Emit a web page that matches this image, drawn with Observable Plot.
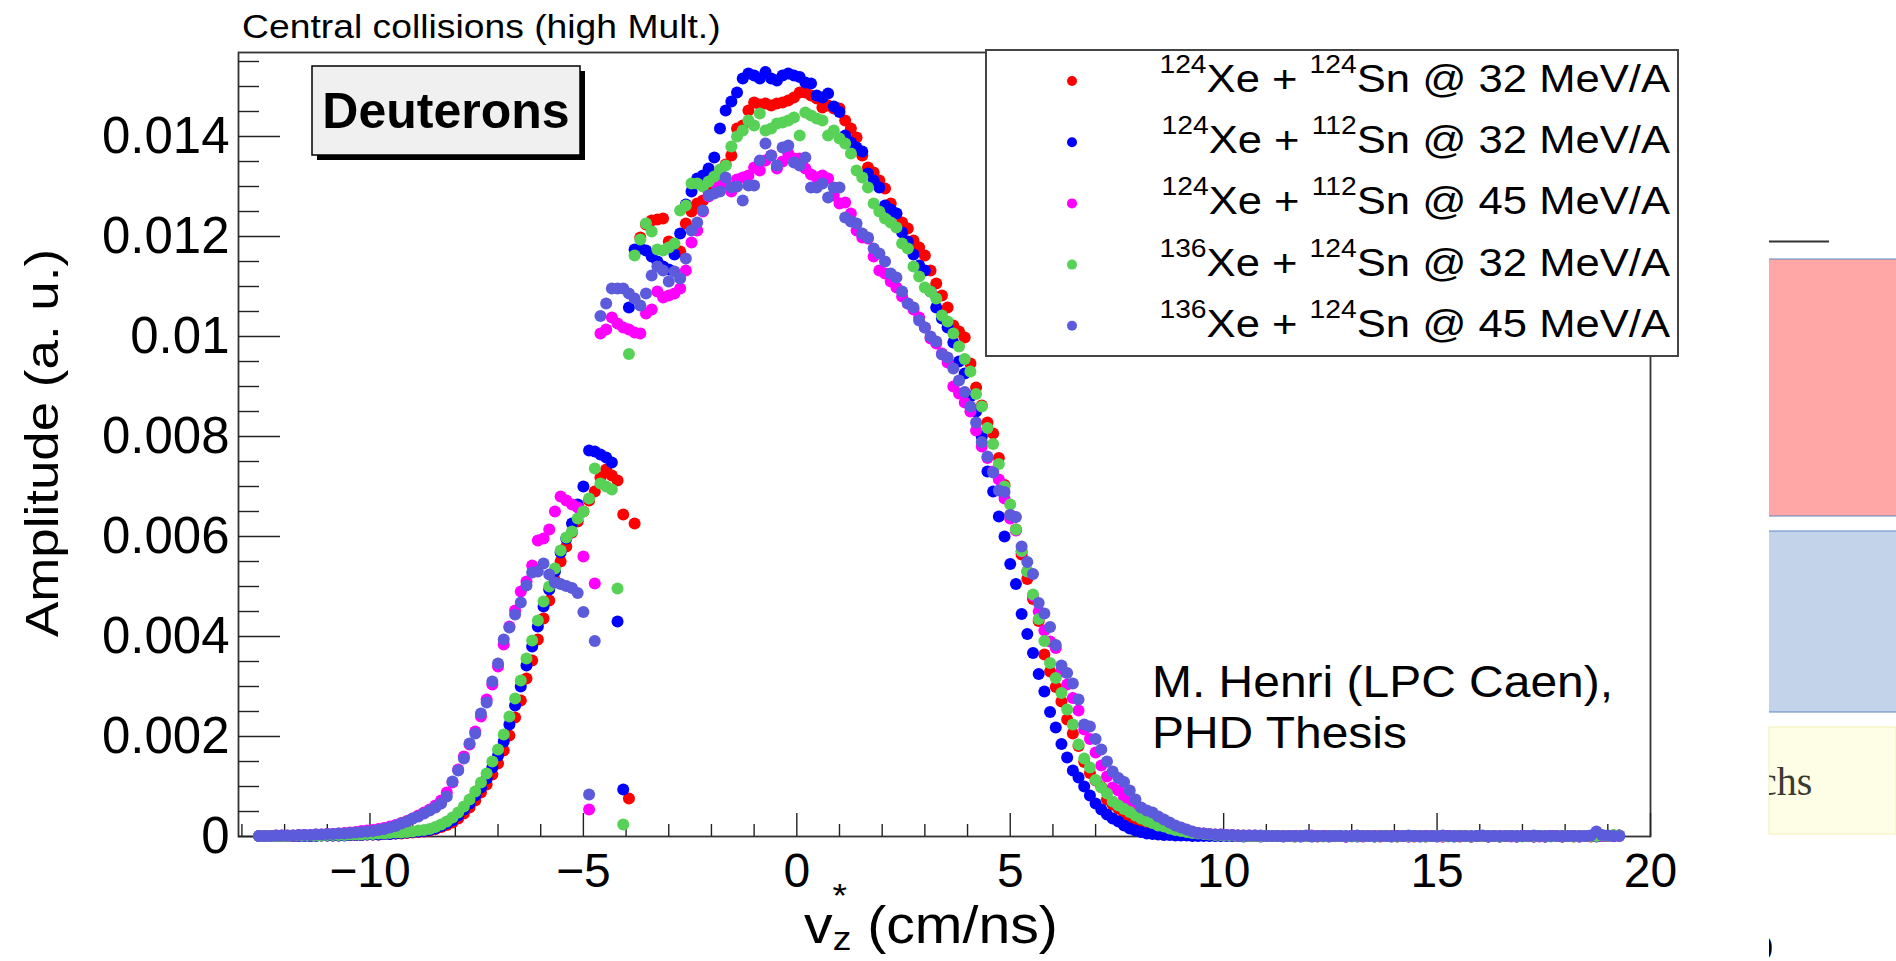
<!DOCTYPE html>
<html>
<head>
<meta charset="utf-8">
<script src="https://cdn.jsdelivr.net/npm/d3@7"></script>
<script src="https://cdn.jsdelivr.net/npm/@observablehq/plot@0.6"></script>
<style>
html, body { margin: 0; padding: 0; background: #fff; overflow: hidden; }
#wrap { position: relative; width: 1896px; height: 961px; overflow: hidden; background: #fff; }
#chart { position: absolute; left: 0; top: 0; }
</style>
</head>
<body>
<div id="wrap"><div id="chart"></div></div>
<script>
// ---- histogram binning (bin centres) ----
const binLo = -12.6;
const binStep = 2 / 15;

// ---- series descriptors ----
const projMass = ["124", "124", "124", "136", "136"];
const targMass = ["124", "112", "112", "124", "124"];
const beamEnergy = ["32", "32", "45", "32", "45"];
const colors = ["#ff0000", "#0000ff", "#ff00ff", "#57d257", "#5b5bdb"];

// ---- amplitudes per bin, in units of 1e-5 ----
const red = [
1,1,1,1,1,1,1,1,2,1, 2,2,2,2,2,3,3,3,3,4, 4,4,5,5,6,6,7,8,9,10,
12,15,19,23,28,36,46,58,72,88, 104,124,146,172,202,238,272,316,352,394,
436,472,512,550,580,608,630,650,672,690, 718,734,722,712,644,76,626,1198,1224,1232,
1234,1236,1190,1172,1170,1226,1250,1266,1272,1290, 1306,1326,1344,1362,1416,1422,1452,1468,1464,1466,
1462,1466,1468,1472,1478,1488,1488,1482,1476,1458, 1462,1456,1456,1432,1416,1398,1362,1338,1328,1312,
1296,1266,1246,1228,1216,1192,1178,1162,1132,1106, 1082,1058,1022,1010,998,946,898,862,828,806,
757,703,643,614,564,515,475,431,364,330, 299,270,234,206,181,149,127,112,99,74,
64,56,46,38,32,26,20,16,13,10, 8,7,6,5,4,4,3,3,2,2,
2,1,2,1,1,1,1,1,1,1, 1,1,0,1,1,1,0,1,1,1, 1,0,1,1,0,1,1,0,1,1,
0,1,1,0,1,0,1,1,0,1, 1,0,1,0,1,1,0,1,0,1, 1,0,1,1,0,1,0,1,1,0,
1,0,1,1,0,1,1,1,2,2
];
const blue = [
1,1,1,1,1,1,1,1,1,1, 1,2,2,2,2,2,3,3,3,4, 4,4,5,5,6,7,8,9,10,11,
13,16,21,26,32,42,54,66,82,98, 116,138,162,190,224,262,300,342,380,420,
460,494,530,568,596,626,664,700,772,770, 764,758,748,430,94,1058,1174,1176,1172,1160,
1150,1140,1134,1164,1206,1264,1290,1316,1322,1336, 1358,1416,1452,1470,1488,1516,1526,1522,1516,1529,
1516,1512,1522,1526,1522,1519,1508,1506,1482,1478, 1486,1460,1449,1402,1388,1378,1370,1326,1312,1298,
1262,1254,1246,1208,1190,1164,1142,1132,1090,1058, 1036,1018,988,950,926,880,850,800,730,690,
640,600,545,505,445,405,367,325,290,249, 218,185,158,132,118,100,82,66,54,44,
36,30,22,16,12,9,6,5,4,3, 3,2,2,2,1,1,1,1,1,1,
1,1,1,0,1,1,0,1,1,1, 0,1,1,0,1,0,1,1,0,1, 1,0,1,0,1,1,0,1,1,0,
1,1,0,1,0,1,1,0,1,1, 0,1,1,0,1,1,0,1,0,1, 1,0,1,1,0,1,0,1,1,0,
1,1,0,1,1,0,1,1,1,2
];
const magenta = [
1,1,1,2,2,2,2,3,3,3, 4,4,5,5,6,7,8,9,11,12, 13,15,17,20,23,27,31,36,42,48,
54,62,72,88,108,134,160,184,210,240, 274,304,340,384,420,452,490,510,542,592,
596,614,650,680,672,664,658,560,54,506, 1006,1014,1038,1026,1018,1014,1008,1006,1046,1054,
1090,1078,1082,1086,1096,1132,1188,1212,1250,1280, 1308,1304,1306,1290,1314,1318,1322,1338,1332,1352,
1362,1336,1350,1366,1356,1356,1336,1324,1318,1322, 1316,1282,1266,1268,1246,1212,1198,1196,1160,1132,
1126,1110,1098,1080,1066,1054,1038,1018,996,986, 966,948,900,886,868,850,812,780,757,730,
714,676,636,612,570,530,481,450,412,390, 377,330,304,277,252,214,195,168,142,120,
98,92,78,68,60,50,42,36,30,26, 22,18,14,11,9,7,6,5,4,4,
3,3,2,2,2,2,1,1,1,1, 1,1,1,1,1,2,1,1,1,1, 1,0,1,1,1,1,0,1,1,1,
1,1,0,1,1,1,1,1,0,1, 1,1,1,0,1,1,1,1,1,1, 0,1,1,1,1,0,1,1,1,1,
1,1,0,1,1,1,1,1,1,1
];
const green = [
1,1,1,1,1,1,2,2,2,2, 2,2,3,3,3,3,4,4,4,5, 5,6,6,7,8,8,9,10,12,13,
15,19,24,30,38,48,60,74,90,108, 126,150,174,204,240,276,312,356,392,432,
470,500,536,572,598,610,636,650,676,736, 706,700,694,496,24,965,1162,1194,1226,1210,
1174,1172,1178,1186,1252,1262,1306,1306,1300,1310, 1320,1334,1342,1380,1400,1412,1432,1422,1446,1412,
1416,1426,1428,1432,1438,1402,1448,1442,1436,1432, 1402,1412,1396,1386,1366,1332,1318,1298,1266,1250,
1236,1228,1218,1186,1176,1140,1120,1098,1090,1076, 1042,1030,1006,980,955,930,885,860,817,785,
745,700,664,614,571,530,484,435,391,347, 317,287,254,224,184,156,138,113,98,86,
70,62,55,49,42,36,31,27,22,20, 16,13,11,9,7,6,5,4,3,3,
2,2,2,1,1,1,1,1,1,1, 1,1,0,1,1,1,1,0,1,1, 1,1,0,1,1,1,0,1,1,1,
0,1,1,1,1,0,1,1,1,0, 1,1,1,0,1,1,1,1,0,1, 1,1,0,1,1,1,1,0,1,1,
1,0,1,1,1,1,2,1,3,2
];
const violet = [
1,1,1,2,2,2,2,3,3,3, 4,4,5,5,6,6,7,8,9,10, 11,13,15,18,21,26,30,36,40,46,
52,58,66,80,110,132,156,186,206,246, 268,310,346,394,418,444,468,502,528,530,
546,524,508,505,501,497,487,449,84,391, 1041,1066,1096,1096,1096,1086,1076,1062,1086,1122,
1140,1132,1110,1130,1116,1156,1212,1228,1252,1282, 1286,1290,1318,1298,1300,1272,1302,1302,1352,1386,
1362,1342,1378,1382,1348,1342,1358,1298,1298,1306, 1278,1298,1298,1238,1230,1226,1206,1198,1176,1166,
1150,1126,1118,1090,1066,1058,1032,1018,1000,990, 964,958,936,912,889,860,828,789,760,728,
692,689,643,639,580,549,525,467,446,419, 383,342,327,306,274,224,220,195,174,150,
130,117,109,92,74,58,52,48,40,34, 28,22,18,14,10,7,6,5,4,4,
3,3,2,2,2,2,2,1,1,1, 1,1,1,1,2,1,1,1,1,1, 1,1,1,2,1,1,1,1,1,1,
1,1,2,1,1,1,1,1,2,1, 1,1,1,1,1,2,1,1,1,1, 1,1,1,1,2,1,1,1,1,1,
1,1,1,1,2,10,3,2,1,1
];

// ---- axis ticks ----
const xMajorTicks = [-10, -5, 0, 5, 10, 15, 20];
const xMinorTicks = [-13,-12,-11,-9,-8,-7,-6,-4,-3,-2,-1,1,2,3,4,6,7,8,9,11,12,13,14,16,17,18,19];
const yMajorTicks = [0, 0.002, 0.004, 0.006, 0.008, 0.01, 0.012, 0.014];
const yMinorTicks = [0.0005,0.001,0.0015,0.0025,0.003,0.0035,0.0045,0.005,0.0055,0.0065,0.007,0.0075,
                     0.0085,0.009,0.0095,0.0105,0.011,0.0115,0.0125,0.013,0.0135,0.0145,0.015,0.0155];

// ---- build table ----
const amplitudes = [red, blue, magenta, green, violet];
const labels = projMass.map((p, k) => `${p}Xe + ${targMass[k]}Sn @ ${beamEnergy[k]} MeV/A`);
const table = amplitudes.flatMap((vals, k) =>
  vals.map((v, i) => ({x: binLo + i * binStep, y: v * 1e-5, series: labels[k]})));

const W = 1896, H = 961, mL = 238, mR = 246, mT = 52, mB = 125;
const plotW = W - mL - mR, plotH = H - mT - mB;
const FONT = '"Liberation Sans", Arial, Helvetica, sans-serif';
const fmtX = d => d < 0 ? "\u2212" + (-d) : String(d);
const fmtY = d => d === 0 ? "0" : d3.format(".3~f")(d);

const chart = Plot.plot({
  width: W, height: H,
  marginLeft: mL, marginRight: mR, marginTop: mT, marginBottom: mB,
  style: {fontFamily: FONT, background: "transparent", color: "#000", overflow: "visible"},
  x: {domain: [-13.08, 20]},
  y: {domain: [0, 0.01568]},
  color: {domain: labels, range: colors},
  marks: [
    Plot.frame({stroke: "#333", strokeWidth: 1.8}),
    Plot.tickX(xMinorTicks, {x: d => d, insetTop: plotH - 12, stroke: "#222", strokeWidth: 1.4}),
    Plot.tickX(xMajorTicks, {x: d => d, insetTop: plotH - 23, stroke: "#222", strokeWidth: 1.4}),
    Plot.tickY(yMinorTicks, {y: d => d, insetRight: plotW - 21, stroke: "#222", strokeWidth: 1.4}),
    Plot.tickY(yMajorTicks, {y: d => d, insetRight: plotW - 42, stroke: "#222", strokeWidth: 1.4}),
    Plot.axisX({ticks: xMajorTicks, tickSize: 0, tickPadding: 16, fontSize: 48, tickFormat: fmtX, label: null}),
    Plot.axisY({ticks: yMajorTicks, tickSize: 0, tickPadding: 9, fontSize: 51, tickFormat: fmtY, label: null}),
    Plot.dot(table, {x: "x", y: "y", fill: "series", r: 6})
  ]
});
document.getElementById("chart").appendChild(chart);

// ---- overlay: titles, legend, annotations ----
const ov = d3.select("#wrap").append("svg")
  .attr("width", W).attr("height", H)
  .style("position", "absolute").style("left", "0").style("top", "0")
  .attr("font-family", FONT).style("white-space", "pre");

ov.append("text").attr("transform", "translate(242,38) scale(1.13,1)")
  .attr("font-size", 33).text("Central collisions (high Mult.)");

// "Deuterons" box with shadow
ov.append("rect").attr("x", 317).attr("y", 71).attr("width", 268).attr("height", 89).attr("fill", "#000");
ov.append("rect").attr("x", 312).attr("y", 66).attr("width", 268).attr("height", 89)
  .attr("fill", "#f0f0f0").attr("stroke", "#000").attr("stroke-width", 1.5);
ov.append("text").attr("x", 446).attr("y", 128).attr("text-anchor", "middle")
  .attr("font-weight", "bold").attr("font-size", 50).text("Deuterons");

// legend
ov.append("rect").attr("x", 986).attr("y", 50).attr("width", 692).attr("height", 306)
  .attr("fill", "#fff").attr("stroke", "#444").attr("stroke-width", 2);
labels.forEach((lab, k) => {
  const cy = 81 + k * 61.2;
  ov.append("circle").attr("cx", 1072).attr("cy", cy).attr("r", 5).attr("fill", colors[k]);
  const t = ov.append("text").attr("transform", `translate(1670,${cy + 11}) scale(1.13,1)`)
    .attr("text-anchor", "end").attr("font-size", 38.6);
  t.append("tspan").attr("font-size", 25).attr("dy", -19).text(projMass[k]);
  t.append("tspan").attr("dy", 19).text("Xe + ");
  t.append("tspan").attr("font-size", 25).attr("dy", -19).text(targMass[k]);
  t.append("tspan").attr("dy", 19).text(`Sn @ ${beamEnergy[k]} MeV/A`);
});

// annotation
ov.append("text").attr("transform", "translate(1152,697) scale(1.09,1)").attr("font-size", 44).text("M. Henri (LPC Caen),");
ov.append("text").attr("transform", "translate(1152,748) scale(1.09,1)").attr("font-size", 44).text("PHD Thesis");

// axis titles
ov.append("text").attr("transform", "translate(58,443) rotate(-90) scale(1.15,1)")
  .attr("text-anchor", "middle").attr("font-size", 46).text("Amplitude (a. u.)");
const xt = ov.append("text").attr("transform", "translate(804,943) scale(1.1,1)").attr("font-size", 52);
xt.append("tspan").text("v");
xt.append("tspan").attr("dy", -36).attr("font-size", 34).text("*");
xt.append("tspan").attr("dx", -13.2).attr("dy", 43).attr("font-size", 34).text("z");
xt.append("tspan").attr("dy", -7).text(" (cm/ns)");

// neighbouring slide content at the right edge
const defs = ov.append("defs");
defs.append("clipPath").attr("id", "rclip").append("rect").attr("x", 1769).attr("y", 0).attr("width", 127).attr("height", 961);
ov.append("line").attr("x1", 1769).attr("x2", 1829).attr("y1", 241.5).attr("y2", 241.5).attr("stroke", "#333").attr("stroke-width", 2);
ov.append("rect").attr("x", 1769).attr("y", 259).attr("width", 127).attr("height", 257).attr("fill", "#ffa6a6");
ov.append("rect").attr("x", 1769).attr("y", 531).attr("width", 127).attr("height", 181).attr("fill", "#c3d4ea");
[259, 516, 531, 712].forEach(y => ov.append("line").attr("x1", 1769).attr("x2", 1896).attr("y1", y).attr("y2", y).attr("stroke", "#5b87c5").attr("stroke-width", 1));
ov.append("rect").attr("x", 1769).attr("y", 727).attr("width", 127).attr("height", 107).attr("fill", "#fefee6").attr("stroke", "#f4f0b8").attr("stroke-width", 1);
const rg = ov.append("g").attr("clip-path", "url(#rclip)");
rg.append("text").attr("x", 1759).attr("y", 795).attr("font-family", '"Liberation Serif", "DejaVu Serif", serif').attr("font-size", 40).attr("fill", "#3a3a30").text("chs");
rg.append("text").attr("x", 1763).attr("y", 955).attr("font-family", '"Liberation Serif", serif').attr("font-size", 30).attr("fill", "#000").text(")");
</script>
</body>
</html>
